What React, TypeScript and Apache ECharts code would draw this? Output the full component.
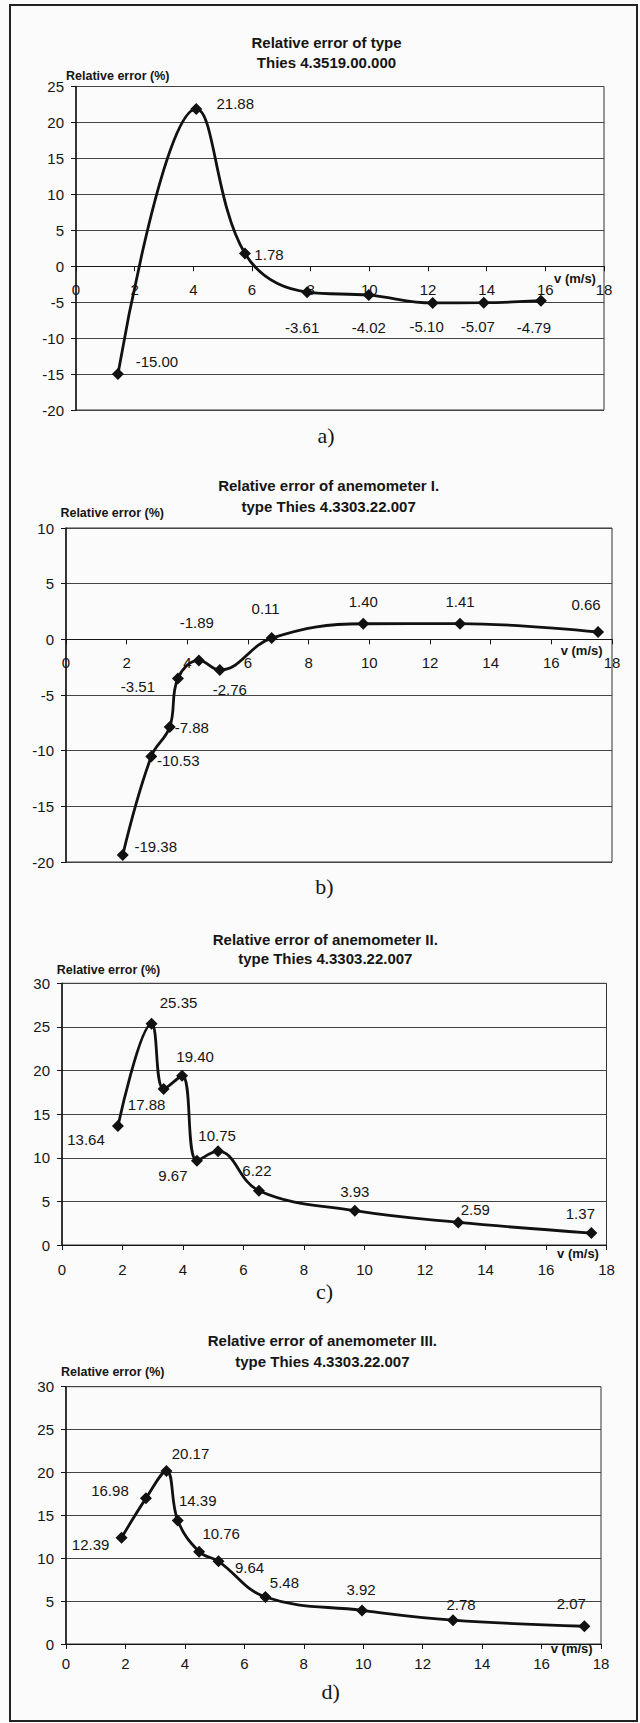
import React, { useEffect, useRef } from "react";
import * as echarts from "echarts";

// ---- data ----
const X_MIN = 0;
const X_MAX = 18;

const A_X = [1.43, 4.1, 5.76, 7.88, 9.98, 12.16, 13.9, 15.85];
const A_Y = [-15.0, 21.88, 1.78, -3.61, -4.02, -5.1, -5.07, -4.79];

const B_X = [1.87, 2.81, 3.42, 3.69, 4.38, 5.07, 6.78, 9.8, 12.99, 17.54];
const B_Y = [-19.38, -10.53, -7.88, -3.51, -1.89, -2.76, 0.11, 1.4, 1.41, 0.66];

const C_X = [1.85, 2.96, 3.36, 3.97, 4.46, 5.16, 6.51, 9.68, 13.1, 17.5];
const C_Y = [13.64, 25.35, 17.88, 19.4, 9.67, 10.75, 6.22, 3.93, 2.59, 1.37];

const D_X = [1.87, 2.69, 3.38, 3.76, 4.48, 5.13, 6.71, 9.96, 13.02, 17.44];
const D_Y = [12.39, 16.98, 20.17, 14.39, 10.76, 9.64, 5.48, 3.92, 2.78, 2.07];

const TITLES = [
  ["Relative error of type", "Thies 4.3519.00.000"],
  ["Relative error of anemometer I.", "type Thies 4.3303.22.007"],
  ["Relative error of anemometer II.", "type Thies 4.3303.22.007"],
  ["Relative error of anemometer III.", "type Thies 4.3303.22.007"],
];
const Y_RANGES = [
  [-20, 25],
  [-20, 10],
  [0, 30],
  [0, 30],
];
const PANEL_LETTERS = ["a)", "b)", "c)", "d)"];
const Y_NAME = "Relative error (%)";
const X_NAME = "v (m/s)";

// ---- layout (label placement, not data) ----
const A_LBL = [[39, -13], [39, -5], [24, 1], [-5, 35], [0, 32], [-6, 24], [-6, 24], [-7, 27]];
const B_LBL = [[33, -9], [27, 4], [22, 0], [-40, 8], [-2, -38], [10, 19], [-6, -30], [0, -22], [0, -22], [-12, -27]];
const C_LBL = [[-32, 13], [27, -21], [-17, 15], [13, -19], [-24, 15], [-1, -16], [-2, -20], [0, -19], [17, -13], [-11, -20]];
const D_LBL = [[-31, 7], [-36, -8], [24, -18], [20, -20], [22, -18], [31, 6], [19, -14], [-1, -21], [8, -16], [-13, -23]];

const GRIDS = [
  { left: 76, top: 86.5, width: 528, height: 323.5 },
  { left: 66, top: 528, width: 546, height: 334 },
  { left: 62, top: 983.3, width: 544.5, height: 261.7 },
  { left: 66, top: 1386.7, width: 535, height: 257.3 },
];
const TITLE_POS = [
  { x: 326.5, y1: 42.7, y2: 62.7 },
  { x: 328.6, y1: 485, y2: 506 },
  { x: 325.3, y1: 939, y2: 958.3 },
  { x: 322.4, y1: 1340.7, y2: 1361.7 },
];
const YNAME_POS = [
  { x: 66, y: 76 },
  { x: 60.4, y: 513.3 },
  { x: 56.7, y: 970 },
  { x: 61, y: 1371.7 },
];
const XNAME_POS = [
  { x: 575, y: 278 },
  { x: 581.6, y: 650 },
  { x: 578, y: 1253 },
  { x: 571.7, y: 1648 },
];
const LETTER_POS = [
  { x: 326, y: 435 },
  { x: 324.5, y: 886.7 },
  { x: 324.5, y: 1291.7 },
  { x: 330.6, y: 1691.7 },
];
const X_LABEL_MARGIN = [16, 16, 17, 12];

const SANS = "'Liberation Sans', Arial, sans-serif";
const SERIF = "'Liberation Serif', 'Times New Roman', serif";
const INK = "#151515";

function txt(text: string, x: number, y: number, size: number, opts: any = {}) {
  const align = opts.align || "center";
  return {
    type: "text",
    x,
    y,
    silent: true,
    style: {
      text,
      fill: opts.fill || INK,
      fontSize: size,
      fontWeight: opts.weight || "normal",
      fontFamily: opts.family || SANS,
      align,
      textAlign: align,
      verticalAlign: "middle",
      textVerticalAlign: "middle",
    },
  };
}

export default function App() {
  const ref = useRef<HTMLDivElement>(null);
  useEffect(() => {
    if (!ref.current) return;
    const chart = echarts.init(ref.current, null, { renderer: "svg" });
    const xs = [A_X, B_X, C_X, D_X];
    const ys = [A_Y, B_Y, C_Y, D_Y];
    const lbls = [A_LBL, B_LBL, C_LBL, D_LBL];

    const grid = GRIDS.map((g) => ({
      ...g,
      show: true,
      borderColor: "#333",
      borderWidth: 1,
      backgroundColor: "transparent",
      containLabel: false,
    }));
    // x axis sits on the y = 0 line (with its labels), as in the original
    const xAxis = GRIDS.map((g, i) => {
      const [lo, hi] = Y_RANGES[i];
      const zeroFromBottom = lo < 0 ? ((0 - lo) / (hi - lo)) * g.height : 0;
      return {
        type: "value",
        gridIndex: i,
        position: "bottom",
        offset: -zeroFromBottom,
        min: X_MIN,
        max: X_MAX,
        interval: 2,
        axisLine: { show: true, onZero: false, lineStyle: { color: INK, width: 1.2 } },
        axisTick: { show: true, length: 5, inside: false, lineStyle: { color: INK } },
        axisLabel: { color: INK, fontSize: 15, fontFamily: SANS, margin: X_LABEL_MARGIN[i] },
        splitLine: { show: false },
      };
    });
    const yAxis = GRIDS.map((_, i) => ({
      type: "value",
      gridIndex: i,
      min: Y_RANGES[i][0],
      max: Y_RANGES[i][1],
      interval: 5,
      axisLine: { show: true, onZero: false, lineStyle: { color: INK, width: 1.5 } },
      axisTick: { show: true, length: 5, lineStyle: { color: INK } },
      axisLabel: { color: INK, fontSize: 15, fontFamily: SANS, margin: 12 },
      splitLine: { show: true, lineStyle: { color: "#444", width: 1 } },
    }));
    const series = GRIDS.map((_, i) => ({
      type: "line",
      xAxisIndex: i,
      yAxisIndex: i,
      smooth: 0.4,
      symbol: "diamond",
      symbolSize: 12,
      lineStyle: { color: "#111", width: 2.8 },
      itemStyle: { color: "#111" },
      label: {
        show: true,
        position: "inside",
        align: "center",
        verticalAlign: "middle",
        color: INK,
        fontSize: 15,
        fontFamily: SANS,
        formatter: (p: any) => Number(p.value[1]).toFixed(2),
      },
      data: xs[i].map((x, j) => ({
        value: [x, ys[i][j]],
        label: { offset: lbls[i][j] },
      })),
    }));

    const graphics: any[] = [
      {
        type: "rect",
        silent: true,
        shape: { x: 10, y: 5, width: 627, height: 1716 },
        style: { fill: "none", stroke: "#222", lineWidth: 2 },
      },
    ];
    for (let i = 0; i < 4; i++) {
      graphics.push(txt(TITLES[i][0], TITLE_POS[i].x, TITLE_POS[i].y1, 15, { weight: "bold" }));
      graphics.push(txt(TITLES[i][1], TITLE_POS[i].x, TITLE_POS[i].y2, 15, { weight: "bold" }));
      graphics.push(txt(Y_NAME, YNAME_POS[i].x, YNAME_POS[i].y, 12.5, { weight: "bold", align: "left" }));
      graphics.push(txt(X_NAME, XNAME_POS[i].x, XNAME_POS[i].y, 13, { weight: "bold" }));
      graphics.push(txt(PANEL_LETTERS[i], LETTER_POS[i].x, LETTER_POS[i].y, 22, { family: SERIF }));
    }

    chart.setOption({
      animation: false,
      backgroundColor: "#fbfbfb",
      grid,
      xAxis,
      yAxis,
      series,
      graphic: { elements: graphics },
    });
    return () => chart.dispose();
  }, []);
  return (
    <div
      ref={ref}
      style={{ position: "absolute", left: 0, top: 0, width: 640, height: 1723 }}
    />
  );
}
